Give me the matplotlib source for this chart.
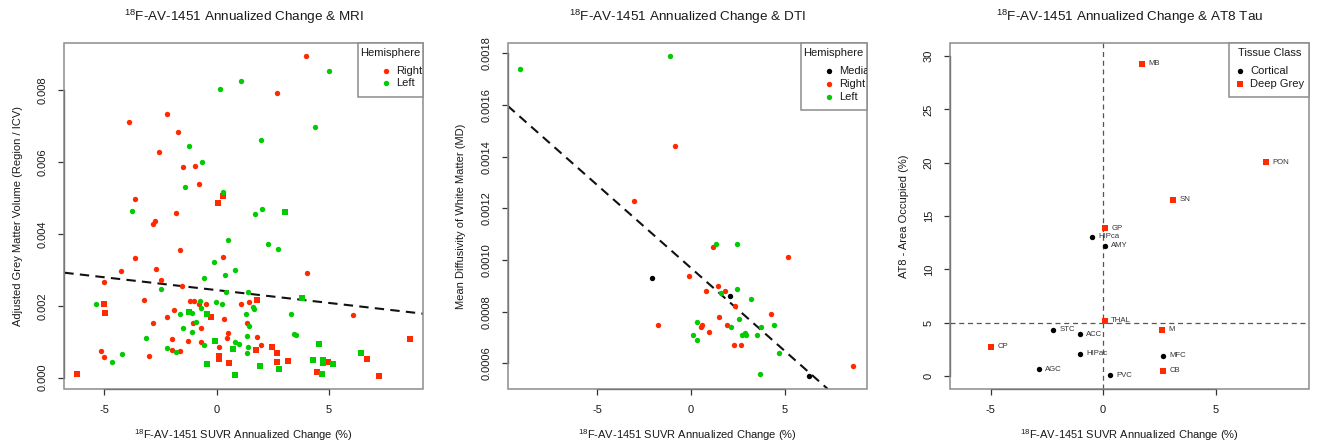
import matplotlib
matplotlib.use('Agg')
import matplotlib.pyplot as plt
from matplotlib.patches import Rectangle

plt.rcParams['font.family'] = ['Liberation Sans', 'DejaVu Sans']
plt.rcParams['mathtext.fontset'] = 'custom'
plt.rcParams['mathtext.rm'] = 'Liberation Sans'
plt.rcParams['mathtext.it'] = 'Liberation Sans:italic'
plt.rcParams['mathtext.bf'] = 'Liberation Sans:bold'
plt.rcParams['mathtext.default'] = 'regular'
plt.rcParams['axes.unicode_minus'] = False

RED = '#FF2A00'
GREEN = '#00CC00'
BLACK = '#000000'
BOXC = '#8c8c8c'
AXC = '#333333'

# ---------------- Panel 1: MRI ----------------
mri_right_circ_x = [3.96, 2.66, -3.92, -2.21, -1.74, -2.58, -1.50, -0.95, -0.77, -3.64,
                    -1.81, -2.73, -2.83, -1.63, 0.28, -3.64, -4.24, -2.72, -2.46, -5.00,
                    -1.56, 4.00, -3.25, -1.19, -1.01, -0.49, 1.10, 1.42, -1.91, -2.20,
                    -2.85, -1.04, -0.71, 0.33, 1.34, 6.08, 0.49, -1.97, 0.47, -1.26,
                    -0.71, 1.81, 1.97, -1.99, -1.62, -5.13, -5.00, -3.03, 0.12, -0.77]
mri_right_circ_y = [0.00895, 0.00793, 0.00712, 0.00732, 0.00683, 0.00627, 0.00586, 0.00588, 0.00538, 0.00497,
                    0.00457, 0.00437, 0.00427, 0.00355, 0.00335, 0.00334, 0.00297, 0.00302, 0.00271, 0.00265,
                    0.00255, 0.00291, 0.00216, 0.00214, 0.00214, 0.00205, 0.00205, 0.00210, 0.00189, 0.00170,
                    0.00151, 0.00151, 0.00137, 0.00164, 0.00153, 0.00175, 0.00124, 0.00108, 0.00110, 0.00102,
                    0.00098, 0.00113, 0.00090, 0.00076, 0.00073, 0.00073, 0.00058, 0.00060, 0.00085, 0.00204]
mri_right_sq_x = [0.07, 0.27, -5.00, -4.97, -0.25, 1.77, 0.08, 0.09, 0.55, 2.45,
                  2.66, 2.70, 3.15, 1.75, 4.47, 4.97, 6.68, 7.24, 8.61, -6.20]
mri_right_sq_y = [0.00485, 0.00504, 0.00204, 0.00179, 0.00168, 0.00217, 0.00061, 0.00052, 0.00041, 0.00086,
                  0.00070, 0.00044, 0.00047, 0.00076, 0.00017, 0.00044, 0.00053, 0.00004, 0.00108, 0.00010]
mri_left_circ_x = [5.00, 1.10, 0.16, 4.39, 1.96, -1.22, -0.67, -1.42, 0.28, -3.77,
                   1.72, 2.03, 0.50, 2.30, 2.72, -0.13, 0.82, 0.37, -0.58, -2.49,
                   0.40, 1.38, -5.39, -0.73, -0.03, 0.25, -0.68, 1.60, 1.66, -1.62,
                   3.31, 1.31, -0.93, -1.51, 1.42, -3.15, -1.10, -0.58, 0.83, 0.98,
                   -2.23, -1.82, -4.21, -4.66, 1.35, 1.41, 1.34, 3.46, 3.52, -1.08]
mri_left_circ_y = [0.00853, 0.00824, 0.00804, 0.00697, 0.00662, 0.00643, 0.00601, 0.00531, 0.00516, 0.00463,
                   0.00456, 0.00470, 0.00383, 0.00372, 0.00358, 0.00323, 0.00300, 0.00285, 0.00276, 0.00246,
                   0.00237, 0.00238, 0.00206, 0.00212, 0.00210, 0.00205, 0.00193, 0.00197, 0.00191, 0.00177,
                   0.00176, 0.00178, 0.00155, 0.00139, 0.00144, 0.00111, 0.00126, 0.00091, 0.00099, 0.00095,
                   0.00082, 0.00071, 0.00067, 0.00043, 0.00069, 0.00086, 0.00115, 0.00121, 0.00119, 0.00179]
mri_left_sq_x = [3.04, 3.78, -1.25, -0.43, -0.06, 0.73, -0.45, 0.80, 1.93, 2.76,
                 4.57, 4.30, 4.72, 4.72, 4.67, 5.16, 6.42]
mri_left_sq_y = [0.00461, 0.00221, 0.00182, 0.00176, 0.00103, 0.00080, 0.00037, 0.00007, 0.00033, 0.00024,
                 0.00095, 0.00048, 0.00048, 0.00041, 0.00010, 0.00039, 0.00069]
mri_fit_intercept = 0.002436
mri_fit_slope = -0.0000714

# ---------------- Panel 2: DTI ----------------
dti_left_x = [-9.11, -1.14, 1.35, 2.44, 2.44, 3.22, 1.60, 2.54, 2.12, 0.34,
              0.11, 0.32, 2.70, 2.90, 2.94, 3.54, 3.72, 4.41, 4.72, 3.70]
dti_left_y = [0.001741, 0.001791, 0.001061, 0.001061, 0.000889, 0.000850, 0.000871, 0.000770, 0.000739, 0.000760,
              0.000711, 0.000690, 0.000710, 0.000716, 0.000710, 0.000710, 0.000739, 0.000750, 0.000640, 0.000560]
dti_right_x = [-0.84, -3.06, 1.17, 5.16, -0.12, 1.46, 0.82, 1.81, 2.33, 4.29,
               1.51, -1.76, 0.59, 0.53, 1.94, 0.98, 2.31, 2.65, 8.67]
dti_right_y = [0.001440, 0.001230, 0.001050, 0.001010, 0.000939, 0.000899, 0.000880, 0.000880, 0.000821, 0.000790,
               0.000781, 0.000750, 0.000750, 0.000739, 0.000750, 0.000720, 0.000670, 0.000670, 0.000590]
dti_median_x = [-2.08, 2.10, 6.28]
dti_median_y = [0.000930, 0.000861, 0.000550]
dti_fit_intercept = 0.000969
dti_fit_slope = -0.0000641

# ---------------- Panel 3: AT8 ----------------
at8_deep_labels = ['MB', 'PON', 'SN', 'GP', 'THAL', 'M', 'CP', 'CB']
at8_deep_x = [1.75, 7.23, 3.13, 0.09, 0.09, 2.62, -4.96, 2.68]
at8_deep_y = [29.28, 20.04, 16.52, 13.86, 5.21, 4.37, 2.78, 0.50]
at8_cort_labels = ['HIPca', 'AMY', 'STC', 'ACC', 'HIPac', 'MFC', 'AGC', 'PVC']
at8_cort_x = [-0.49, 0.09, -2.22, -1.04, -1.04, 2.65, -2.84, 0.31]
at8_cort_y = [13.05, 12.21, 4.34, 3.93, 2.12, 1.90, 0.66, 0.09]
at8_vline = 0
at8_hline = 5

XLABEL = r'$^{18}$F-AV-1451 SUVR Annualized Change (%)'

fig = plt.figure(figsize=(13.18, 4.44), dpi=100)
W, H = 1318.0, 444.0
ax_w = 359.0 / W
ax_h = 346.3 / H
ax_b = (H - 389.0) / H
ax1 = fig.add_axes([64.3 / W, ax_b, ax_w, ax_h])
ax2 = fig.add_axes([507.7 / W, ax_b, ax_w, ax_h])
ax3 = fig.add_axes([950.3 / W, ax_b, ax_w, ax_h])

MS = 15


def style_axes(ax, xticks, yticks, yfmt, title, ylabel):
    ax.set_xticks(xticks)
    ax.set_yticks(yticks)
    ax.set_xticklabels([str(t) for t in xticks])
    ax.set_yticklabels([yfmt % t for t in yticks])
    for s in ['top', 'right']:
        ax.spines[s].set_visible(False)
    ax.spines['left'].set_bounds(yticks[0], yticks[-1])
    ax.spines['bottom'].set_bounds(xticks[0], xticks[-1])
    for s in ['left', 'bottom']:
        ax.spines[s].set_color(AXC)
        ax.spines[s].set_linewidth(0.9)
    ax.add_patch(Rectangle((0, 0), 1, 1, transform=ax.transAxes, fill=False,
                           edgecolor=BOXC, lw=1.1, clip_on=False, zorder=4))
    ax.tick_params(direction='out', length=4.3, width=0.9, color=AXC,
                   labelsize=8, pad=7.5, labelcolor='#1a1a1a')
    ax.tick_params(axis='y', labelrotation=90)
    for lab in ax.get_yticklabels():
        lab.set_va('center')
    ax.text(0.5, 1.075, title, transform=ax.transAxes, ha='center', va='center',
            fontsize=9.7, color='#1a1a1a')
    ax.set_xlabel(XLABEL, fontsize=8, color='#1a1a1a')
    ax.xaxis.set_label_coords(0.5, -0.133)
    ax.xaxis.label.set_va('center')
    ax.set_ylabel(ylabel, fontsize=8, color='#1a1a1a')
    ax.yaxis.set_label_coords(-0.13, 0.5)
    ax.yaxis.label.set_va('center')


def manual_legend(ax, x0, y0, title, title_x, title_y, items, marker_x, text_x, item_ys):
    ax.add_patch(Rectangle((x0, y0), 1 - x0, 1 - y0, transform=ax.transAxes,
                           facecolor='white', edgecolor=BOXC, lw=1.1, clip_on=False, zorder=5))
    ax.text(title_x, title_y, title, transform=ax.transAxes, ha='center', va='center',
            fontsize=8, color='#1a1a1a', zorder=6)
    for (label, color, marker), yy in zip(items, item_ys):
        ax.scatter([marker_x], [yy], transform=ax.transAxes, s=MS, c=color, marker=marker,
                   linewidths=0, clip_on=False, zorder=6)
        ax.text(text_x, yy, label, transform=ax.transAxes, ha='left', va='center',
                fontsize=8, color='#1a1a1a', clip_on=True, zorder=6)


# Panel 1
ax1.scatter(mri_right_circ_x, mri_right_circ_y, s=MS, c=RED, marker='o', linewidths=0, zorder=3)
ax1.scatter(mri_right_sq_x, mri_right_sq_y, s=MS, c=RED, marker='s', linewidths=0, zorder=3)
ax1.scatter(mri_left_circ_x, mri_left_circ_y, s=MS, c=GREEN, marker='o', linewidths=0, zorder=3)
ax1.scatter(mri_left_sq_x, mri_left_sq_y, s=MS, c=GREEN, marker='s', linewidths=0, zorder=3)
ax1.axline((0, mri_fit_intercept), slope=mri_fit_slope, color='#111111', lw=1.5,
           linestyle=(0, (4.5, 3)), zorder=2)
ax1.set_xlim(-6.78, 9.19)
ax1.set_ylim(-0.000314, 0.009316)
style_axes(ax1, [-5, 0, 5], [0.0, 0.002, 0.004, 0.006, 0.008], '%.3f',
           r'$^{18}$F-AV-1451 Annualized Change & MRI',
           'Adjusted Grey Matter Volume (Region / ICV)')
manual_legend(ax1, 0.817, 0.844, 'Hemisphere', 0.909, 0.969,
              [('Right', RED, 'o'), ('Left', GREEN, 'o')], 0.896, 0.924, [0.919, 0.883])

# Panel 2
ax2.scatter(dti_median_x, dti_median_y, s=MS, c=BLACK, marker='o', linewidths=0, zorder=3)
ax2.scatter(dti_right_x, dti_right_y, s=MS, c=RED, marker='o', linewidths=0, zorder=3)
ax2.scatter(dti_left_x, dti_left_y, s=MS, c=GREEN, marker='o', linewidths=0, zorder=3)
ax2.axline((0, dti_fit_intercept), slope=dti_fit_slope, color='#111111', lw=1.5,
           linestyle=(0, (4.5, 3)), zorder=2)
ax2.set_xlim(-9.79, 9.38)
ax2.set_ylim(0.000501, 0.001841)
style_axes(ax2, [-5, 0, 5], [0.0006, 0.0008, 0.0010, 0.0012, 0.0014, 0.0016, 0.0018], '%.4f',
           r'$^{18}$F-AV-1451 Annualized Change & DTI',
           'Mean Diffusivity of White Matter (MD)')
manual_legend(ax2, 0.816, 0.806, 'Hemisphere', 0.908, 0.969,
              [('Median', BLACK, 'o'), ('Right', RED, 'o'), ('Left', GREEN, 'o')],
              0.896, 0.924, [0.919, 0.881, 0.842])

# Panel 3
ax3.axvline(at8_vline, color='#555555', lw=0.9, linestyle=(0, (4, 3)), zorder=1)
ax3.axhline(at8_hline, color='#555555', lw=0.9, linestyle=(0, (4, 3)), zorder=1)
ax3.scatter(at8_cort_x, at8_cort_y, s=MS, c=BLACK, marker='o', linewidths=0, zorder=3)
ax3.scatter(at8_deep_x, at8_deep_y, s=MS, c=RED, marker='s', linewidths=0, zorder=3)
for lab, x, y in zip(at8_cort_labels + at8_deep_labels, at8_cort_x + at8_deep_x,
                     at8_cort_y + at8_deep_y):
    ax3.annotate(lab, (x, y), xytext=(4.5, 0), textcoords='offset points', ha='left',
                 va='center', fontsize=5.6, color='#333333', zorder=3)
ax3.set_xlim(-6.79, 9.17)
ax3.set_ylim(-1.2, 31.25)
style_axes(ax3, [-5, 0, 5], [0, 5, 10, 15, 20, 25, 30], '%d',
           r'$^{18}$F-AV-1451 Annualized Change & AT8 Tau',
           'AT8 - Area Occupied (%)')
manual_legend(ax3, 0.777, 0.844, 'Tissue Class', 0.889, 0.969,
              [('Cortical', BLACK, 'o'), ('Deep Grey', RED, 's')], 0.807, 0.835, [0.919, 0.881])

fig.savefig('out.png', dpi=100)
